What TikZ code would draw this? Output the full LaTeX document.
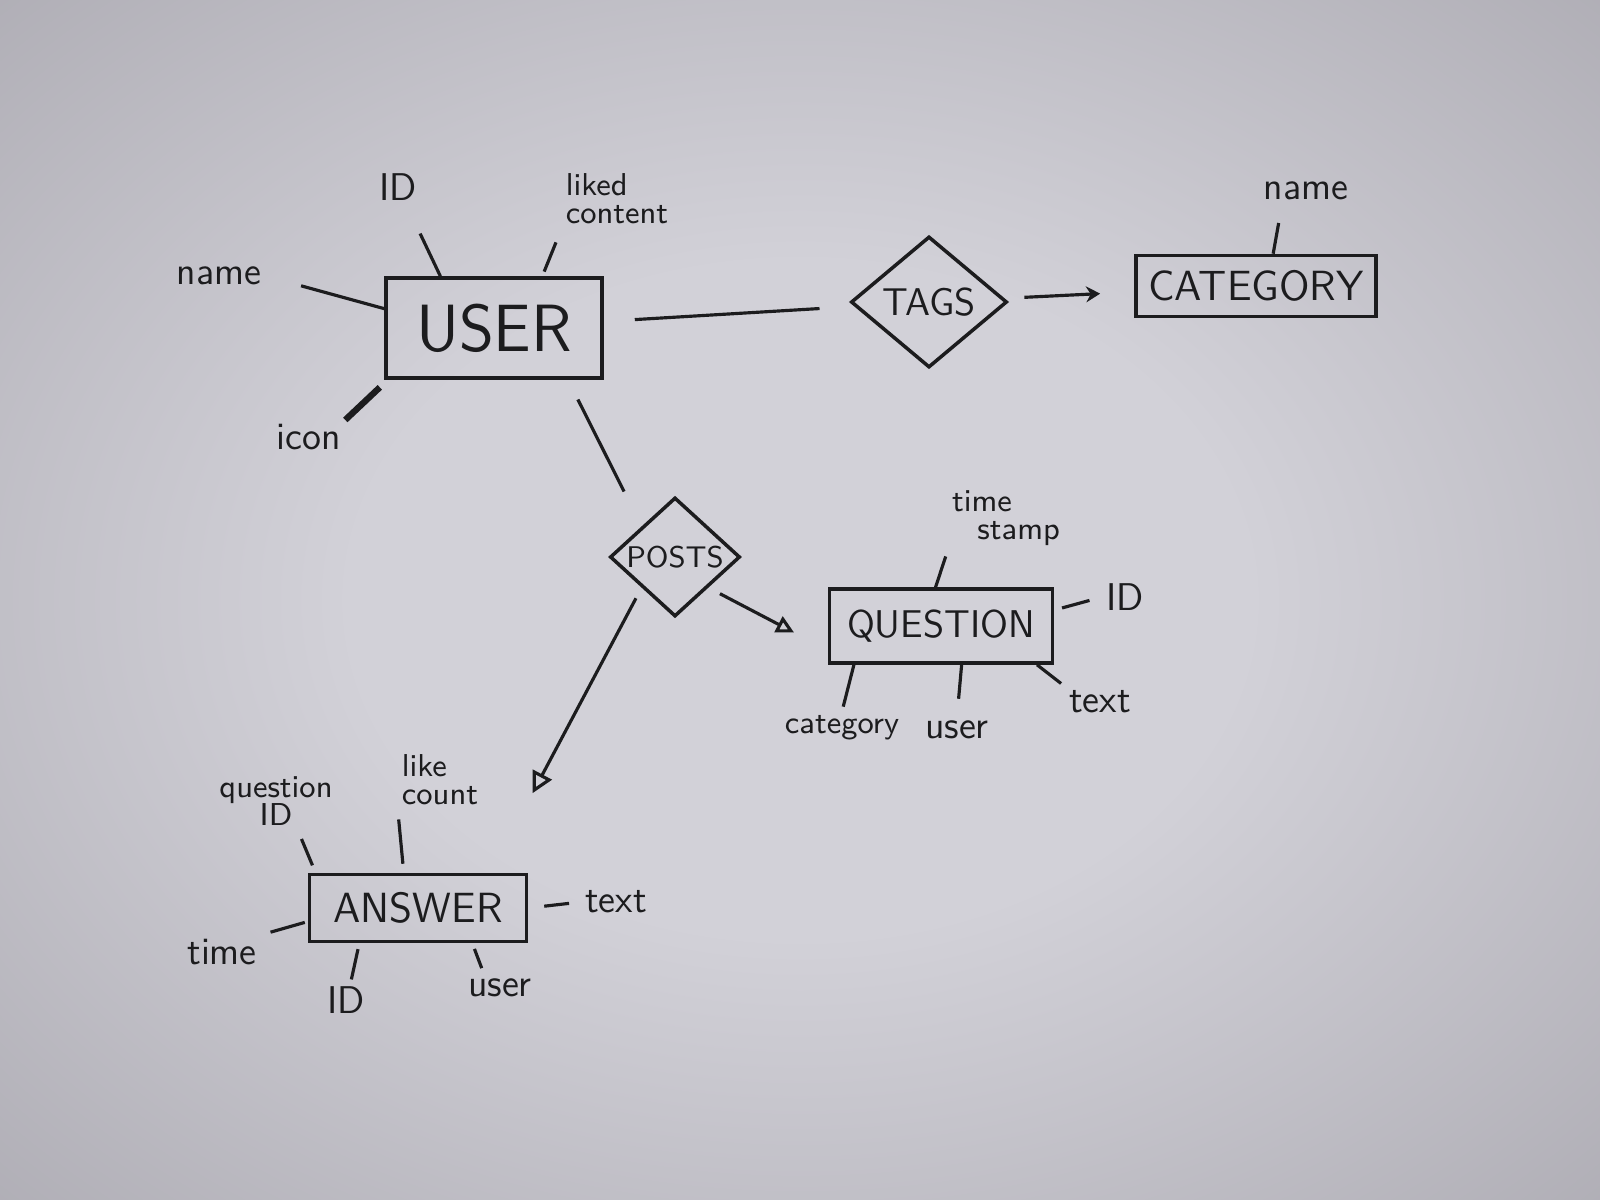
\documentclass[tikz,border=0pt]{standalone}
\usetikzlibrary{shapes.geometric,arrows.meta}
\definecolor{ink}{RGB}{28,28,30}
\definecolor{papermid}{RGB}{210,209,216}
\definecolor{paperside}{RGB}{154,152,160}
\definecolor{papercorner}{RGB}{128,126,132}
\pgfdeclareradialshading{paper}{\pgfpoint{0bp}{0bp}}{color(0bp)=(papermid); color(14bp)=(papermid); color(50bp)=(paperside); color(72bp)=(papercorner)}
\begin{document}
\begin{tikzpicture}[x=0.01cm, y=-0.01cm, inner sep=1pt, color=ink]
		\tikzstyle{every node}=[font=\sffamily]
		\tikzstyle{entity}=[draw, rectangle, line width=1pt, inner sep=0pt]
		\tikzstyle{relation}=[draw, diamond, line width=1pt, inner sep=0pt, shape aspect=1.2]
		\tikzstyle{attr}=[font=\sffamily\fontsize{11}{11}\selectfont]
		\tikzstyle{smallattr}=[align=left, font=\sffamily\fontsize{9}{8}\selectfont]
		\tikzstyle{link}=[line width=0.9pt]

			\shade[shading=paper] (0,0) rectangle (1600,1200);

			% entities and relations
			\node[entity, minimum width=2.16cm, minimum height=1cm, font=\sffamily\fontsize{19}{19}\selectfont] (user) at (494,328) {USER};
			\node[relation, minimum width=1.56cm, minimum height=1.31cm, font=\sffamily\fontsize{11}{11}\selectfont] (tags) at (929,302) {TAGS};
			\node[entity, minimum width=2.4cm, minimum height=0.61cm, font=\sffamily\fontsize{12}{12}\selectfont] (category) at (1256,286) {CATEGORY};
			\node[relation, shape aspect=1.1, minimum width=1.3cm, minimum height=1.19cm, font=\sffamily\fontsize{8.5}{8.5}\selectfont] (posts) at (675,557) {POSTS};
			\node[entity, minimum width=2.23cm, minimum height=0.74cm, font=\sffamily\fontsize{11}{11}\selectfont] (question) at (941,626) {QUESTION};
			\node[entity, minimum width=2.17cm, minimum height=0.67cm, font=\sffamily\fontsize{12}{12}\selectfont] (answer) at (418,908) {ANSWER};

			% attributes
			\node[attr] (uid) at (398,187) {ID};
			\node[smallattr] (uliked) at (617,199) {liked\\content};
			\node[attr] (uname) at (219,276) {name};
			\node[attr] (uicon) at (309,437) {icon};
			\node[attr] (cname) at (1306,191) {name};
			\node[smallattr] (qtime) at (1006,518) {time\\\hspace*{0.8em}stamp};
			\node[attr] (qid) at (1125,597) {ID};
			\node[smallattr] (qcat) at (842,728) {category};
			\node[attr] (quser) at (957,730) {user};
			\node[attr] (qtext) at (1100,702) {text};
			\node[smallattr, align=center] (aqid) at (276,801) {question\\ID};
			\node[smallattr] (alike) at (440,780) {like\\count};
			\node[attr] (atext) at (616,902) {text};
			\node[attr] (atime) at (222,952) {time};
			\node[attr] (aid) at (346,1000) {ID};
			\node[attr] (auser) at (500,988) {user};

			% relationships
			\draw[link, shorten <=0.31cm, shorten >=0.35cm] (user) -- (tags);
			\draw[link, -{Stealth[length=4pt, width=4.5pt]}, shorten <=0.2cm, shorten >=0.34cm] (tags) -- (category);
			\draw[link, shorten <=0.22cm, shorten >=0.39cm] (user.-35) -- (posts.north west);
			\draw[link, -{Triangle[open, length=5pt, width=5pt]}, shorten <=0.13cm, shorten >=0.38cm] (posts.south east) -- (question.192);
			\draw[link, -{Triangle[open, length=6pt, width=6pt]}, shorten <=0.12cm, shorten >=0.9cm] (posts.south west) -- (answer.26);

			% attribute lines
			\draw[link, shorten <=0.32cm] (uid) -- (user.136);
			\draw[link, shorten <=0.15cm, shorten >=0.05cm] (uliked.south west) -- (user.47);
			\draw[link, shorten <=0.37cm] (uname.east) -- (user.170);
			\draw[link, line width=1.8pt, shorten >=0.11cm] (uicon.north east) -- (user.206);
			\draw[link, shorten <=0.19cm] (cname.-151) -- (category.62);
			\draw[link, shorten <=0.07cm] (qtime.south west) -- (question.98);
			\draw[link, shorten <=0.13cm, shorten >=0.08cm] (qid.west) -- (question.8);
			\draw[link, shorten <=0.05cm] (qcat.north) -- (question.204);
			\draw[link, shorten <=0.18cm] (quser.north) -- (question.-62);
			\draw[link, shorten <=0.05cm] (qtext.north west) -- (question.-22);
			\draw[link, shorten <=0.1cm, shorten >=0.08cm] (aqid.-53) -- (answer.161);
			\draw[link, shorten <=0.1cm, shorten >=0.09cm] (alike.south west) -- (answer.112);
			\draw[link, shorten <=0.12cm, shorten >=0.16cm] (atext.west) -- (answer.east);
			\draw[link, shorten <=0.1cm, shorten >=0.03cm] (atime.north east) -- (answer.187);
			\draw[link, shorten <=0.03cm, shorten >=0.06cm] (aid.75) -- (answer.211);
			\draw[link, shorten <=0.07cm, shorten >=0.06cm] (auser.140) -- (answer.-33);
		\end{tikzpicture}
\end{document}
